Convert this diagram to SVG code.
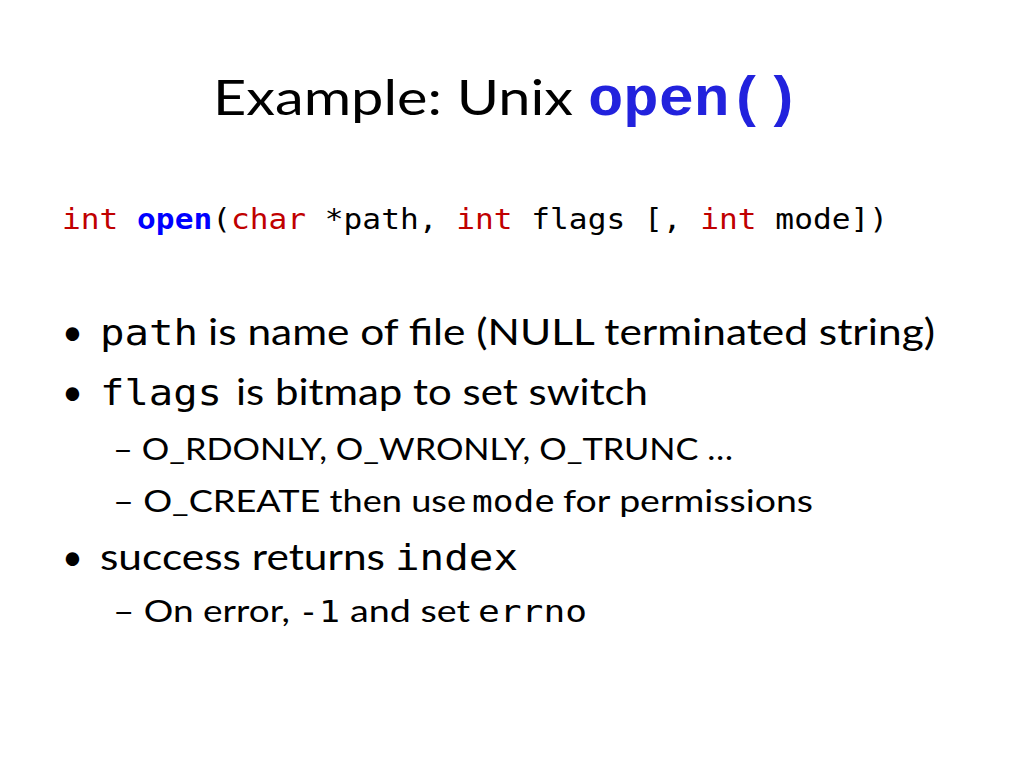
<svg xmlns="http://www.w3.org/2000/svg" width="1024" height="768" viewBox="0 0 1024 768">
<style>
.s{font-family:Lato,"Open Sans",sans-serif;fill:#000}
.m{font-family:"DejaVu Sans Mono","Liberation Mono",monospace;fill:#000}
.r{fill:#c00000}
.b{fill:#0000ff;font-weight:bold}
</style>
<rect width="1024" height="768" fill="#fff"/>
<text class="s" x="213" y="115" font-size="48" textLength="360" lengthAdjust="spacingAndGlyphs">Example: Unix</text>
<text x="588" y="115" font-family="'Liberation Mono','Courier New',monospace" font-weight="bold" font-size="56" fill="#2222dd" textLength="212" lengthAdjust="spacingAndGlyphs">open()</text>
<text class="m" x="62" y="229" font-size="29" textLength="826" lengthAdjust="spacingAndGlyphs"><tspan class="r">int</tspan> <tspan class="b">open</tspan>(<tspan class="r">char</tspan> *path, <tspan class="r">int</tspan> flags [, <tspan class="r">int</tspan> mode])</text>
<g font-size="36">
<text class="s" x="62" y="345">•</text>
<text class="m" x="100" y="345" textLength="98" lengthAdjust="spacingAndGlyphs">path</text>
<text class="s" x="208" y="345" textLength="727" lengthAdjust="spacingAndGlyphs">is name of file (NULL terminated string)</text>
<text class="s" x="62" y="405">•</text>
<text class="m" x="100" y="405" textLength="122" lengthAdjust="spacingAndGlyphs">flags</text>
<text class="s" x="236" y="405" textLength="412" lengthAdjust="spacingAndGlyphs">is bitmap to set switch</text>
<text class="s" x="62" y="570">•</text>
<text class="s" x="100" y="570" textLength="285" lengthAdjust="spacingAndGlyphs">success returns</text>
<text class="m" x="395" y="570" textLength="123" lengthAdjust="spacingAndGlyphs">index</text>
</g>
<g font-size="30">
<text class="s" x="113" y="460" textLength="620" lengthAdjust="spacingAndGlyphs">– O_RDONLY, O_WRONLY, O_TRUNC …</text>
<text class="s" x="113" y="512" textLength="353" lengthAdjust="spacingAndGlyphs">– O_CREATE then use</text>
<text class="m" x="472" y="512" textLength="83" lengthAdjust="spacingAndGlyphs">mode</text>
<text class="s" x="563" y="512" textLength="250" lengthAdjust="spacingAndGlyphs">for permissions</text>
<text class="s" x="113" y="622" textLength="177" lengthAdjust="spacingAndGlyphs">– On error,</text>
<text class="m" x="298" y="622" textLength="42" lengthAdjust="spacingAndGlyphs">-1</text>
<text class="s" x="350" y="622" textLength="120" lengthAdjust="spacingAndGlyphs">and set</text>
<text class="m" x="478" y="622" textLength="109" lengthAdjust="spacingAndGlyphs">errno</text>
</g>
</svg>
